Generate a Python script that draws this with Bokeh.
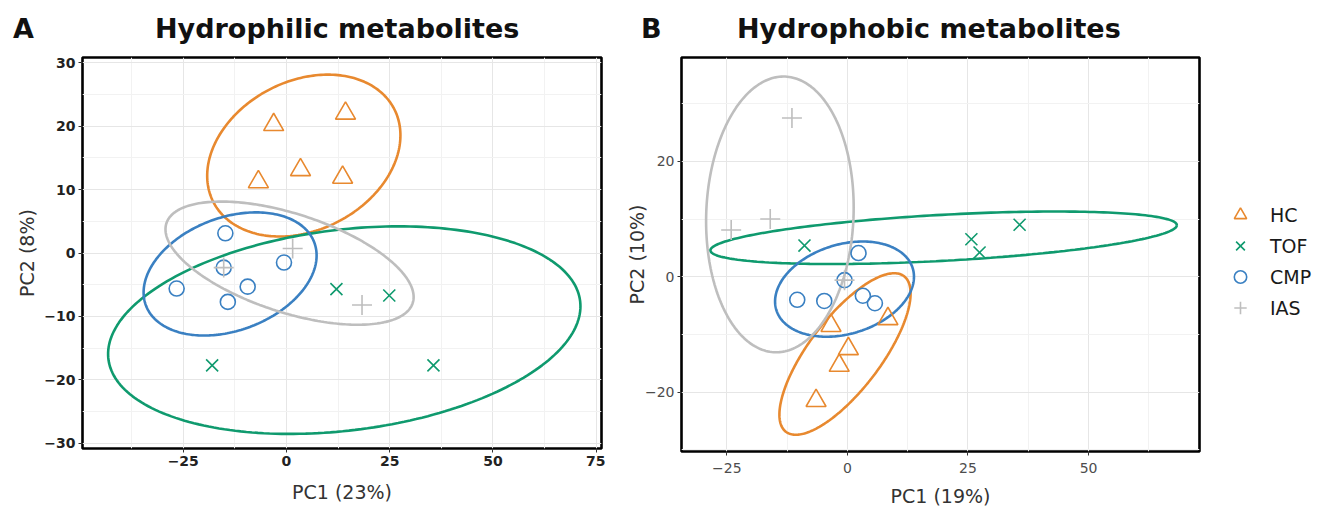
import numpy as np
from bokeh.plotting import figure
from bokeh.models import FixedTicker, Legend, LegendItem, Range1d, Div
from bokeh.layouts import row, column
from bokeh.embed import file_html
from bokeh.resources import INLINE

FONT = "DejaVu Sans"
groups = ["HC", "TOF", "CMP", "IAS"]
group_colors = ["#E8892F", "#0F9A6E", "#3A80C2", "#BEBEBE"]
group_markers = ["triangle", "x", "circle", "cross"]
group_sizes = [20, 17, 15, 20]

panel_letters = ["A", "B"]
panel_titles = ["Hydrophilic metabolites", "Hydrophobic metabolites"]

# ---------------- Panel A : Hydrophilic metabolites ----------------
a_hc_x = [-3.1, 14.3, 3.4, -6.8, 13.6]
a_hc_y = [20.2, 22.0, 13.1, 11.2, 11.9]
a_tof_x = [12.1, 24.9, -18.0, 35.6]
a_tof_y = [-5.7, -6.7, -17.7, -17.7]
a_cmp_x = [-14.8, -15.2, -0.6, -26.6, -9.4, -14.2]
a_cmp_y = [3.1, -2.3, -1.5, -5.6, -5.3, -7.7]
a_ias_x = [-15.2, 1.5, 18.3]
a_ias_y = [-2.3, 0.7, -8.2]
# ellipses: centre x, centre y, half-extent x, half-extent y, cos(phase)
a_ell_cx = [4.2, 14.0, -13.65, 0.75]
a_ell_cy = [15.35, -12.15, -3.3, -1.6]
a_ell_rx = [23.4, 57.2, 20.95, 30.05]
a_ell_ry = [12.75, 16.35, 9.7, 9.7]
a_ell_c = [0.25, 0.23, 0.3, -0.55]

# ---------------- Panel B : Hydrophobic metabolites ----------------
b_hc_x = [-3.4, 8.4, 0.2, -1.7, -6.5]
b_hc_y = [-8.5, -7.3, -12.5, -15.4, -21.5]
b_tof_x = [-8.9, 25.7, 35.7, 27.4]
b_tof_y = [5.4, 6.5, 9.0, 4.2]
b_cmp_x = [-10.4, -4.8, -0.6, 3.2, 5.7, 2.3]
b_cmp_y = [-4.0, -4.2, -0.6, -3.3, -4.6, 4.1]
b_ias_x = [-11.5, -16.0, -24.1, -0.6]
b_ias_y = [27.5, 10.0, 8.1, -0.6]
b_ell_cx = [-0.5, 19.95, -0.6, -14.0]
b_ell_cy = [-13.4, 6.75, -2.15, 10.8]
b_ell_rx = [13.6, 48.35, 14.4, 15.3]
b_ell_ry = [14.0, 4.55, 8.25, 23.9]
b_ell_c = [0.75, 0.48, 0.26, 0.05]

a_xticks = [-50, -25, 0, 25, 50, 75]
a_yticks = [-30, -20, -10, 0, 10, 20, 30]
b_xticks = [-50, -25, 0, 25, 50, 75]
b_yticks = [-40, -20, 0, 20, 40]


def ellipse_outline(cx, cy, rx, ry, c):
    t = np.linspace(0, 2 * np.pi, 240)
    phi = np.arccos(c)
    return cx + rx * np.cos(t), cy + ry * np.cos(t - phi)


def minor_of(ticks):
    return [(a + b) / 2 for a, b in zip(ticks[:-1], ticks[1:])]


def make_panel(xr, yr, xticks, yticks, xlabel, ylabel, pts, ells,
               frame_w, frame_h, borders, bold_ticks, xstand, ystand):
    p = figure(output_backend="svg", toolbar_location=None, title=None,
               frame_width=frame_w, frame_height=frame_h,
               x_range=Range1d(*xr), y_range=Range1d(*yr),
               min_border_left=borders[0], min_border_right=borders[1],
               min_border_top=borders[2], min_border_bottom=borders[3])
    p.background_fill_color = "white"
    p.border_fill_color = "white"
    p.outline_line_color = "black"
    p.outline_line_width = 2.6
    p.xaxis.ticker = FixedTicker(ticks=xticks, minor_ticks=minor_of(xticks))
    p.yaxis.ticker = FixedTicker(ticks=yticks, minor_ticks=minor_of(yticks))
    p.xaxis.axis_label = xlabel
    p.yaxis.axis_label = ylabel
    for ax in (p.xaxis, p.yaxis):
        ax.axis_line_color = None
        ax.major_tick_line_color = "#333333"
        ax.major_tick_out = 4
        ax.major_tick_in = 0
        ax.minor_tick_line_color = None
        ax.major_label_text_font = FONT
        ax.major_label_text_font_size = "14px"
        ax.major_label_text_color = "#222222" if bold_ticks else "#4D4D4D"
        ax.major_label_text_font_style = "bold" if bold_ticks else "normal"
        ax.axis_label_text_font = FONT
        ax.axis_label_text_font_size = "19px"
        ax.axis_label_text_font_style = "normal"
        ax.axis_label_text_color = "#333333"
    p.xaxis.major_label_standoff = xstand[0]
    p.xaxis.axis_label_standoff = xstand[1]
    p.yaxis.major_label_standoff = ystand[0]
    p.yaxis.axis_label_standoff = ystand[1]
    p.grid.grid_line_color = "#E6E6E6"
    p.grid.grid_line_width = 1
    p.grid.minor_grid_line_color = "#F2F2F2"
    p.grid.minor_grid_line_width = 1

    for i in range(4):
        ex, ey = ellipse_outline(ells[0][i], ells[1][i], ells[2][i], ells[3][i], ells[4][i])
        p.line(ex, ey, line_color=group_colors[i], line_width=2.6)
    for i in range(4):
        p.scatter(pts[i][0], pts[i][1], marker=group_markers[i],
                  size=group_sizes[i], fill_color=None,
                  line_color=group_colors[i], line_width=1.6)
    return p


b_pts = [(b_hc_x, b_hc_y), (b_tof_x, b_tof_y), (b_cmp_x, b_cmp_y), (b_ias_x, b_ias_y)]

pa = make_panel((-49.4, 76.3), (-30.8, 30.8),
                a_xticks, a_yticks, "PC1 (23%)", "PC2 (8%)",
                [(a_hc_x, a_hc_y), (a_tof_x, a_tof_y), (a_cmp_x, a_cmp_y), (a_ias_x, a_ias_y)],
                [a_ell_cx, a_ell_cy, a_ell_rx, a_ell_ry, a_ell_c],
                519, 391, (82, 4, 6, 63), True, (3, 12), (3, 3))

pb = make_panel((-34.4, 73.0), (-30.3, 38.0),
                b_xticks, b_yticks, "PC1 (19%)", "PC2 (10%)",
                b_pts,
                [b_ell_cx, b_ell_cy, b_ell_rx, b_ell_ry, b_ell_c],
                518, 394, (76, 4, 7, 59), False, (7, 9), (3, -6))

# ---------------- legend (its own small canvas, right of panel B) ----------------
# the legend canvas holds the panel-B series over a range that keeps the marks out of view,
# so only the legend keys are visible
pl = figure(output_backend="svg", toolbar_location=None, title=None,
            width=116, height=460,
            x_range=Range1d(1000, 1001), y_range=Range1d(1000, 1001),
            x_axis_type=None, y_axis_type=None, min_border=0)
pl.outline_line_color = None
pl.grid.visible = False
pl.background_fill_color = "white"
pl.border_fill_color = "white"
leg_rends = []
for i in range(4):
    leg_rends.append(pl.scatter(b_pts[i][0], b_pts[i][1], marker=group_markers[i],
                                size=group_sizes[i], fill_color=None,
                                line_color=group_colors[i], line_width=1.6))
legend = Legend(items=[LegendItem(label=groups[i], renderers=[leg_rends[i]]) for i in range(4)],
                location=(20, 124))
legend.glyph_width = 34
legend.glyph_height = 31
legend.spacing = 0
legend.padding = 0
legend.margin = 0
legend.label_standoff = 13
legend.border_line_color = None
legend.background_fill_color = None
legend.label_text_font = FONT
legend.label_text_font_size = "19px"
legend.label_text_color = "#1A1A1A"
pl.add_layout(legend)

# ---------------- header: panel letters and titles ----------------
head_style = ("position:absolute;top:15px;font-family:'DejaVu Sans';font-weight:bold;"
              "font-size:27px;line-height:27px;color:#111111;white-space:nowrap;")
header_html = (
    '<div style="position:relative;width:1318px;height:50px;margin:0;padding:0;">'
    f'<span style="{head_style}left:13px;">{panel_letters[0]}</span>'
    f'<span style="{head_style}left:155px;">{panel_titles[0]}</span>'
    f'<span style="{head_style}left:641px;">{panel_letters[1]}</span>'
    f'<span style="{head_style}left:737px;">{panel_titles[1]}</span>'
    '</div>'
)
header = Div(text=header_html, width=1318, height=50, margin=0)

layout = column(header, row(pa, pb, pl))
open("out.html", "w").write(file_html(layout, INLINE))
